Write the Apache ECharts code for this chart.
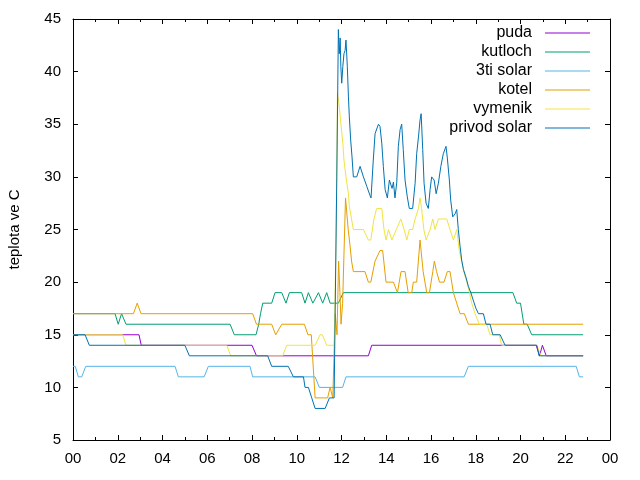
<!DOCTYPE html>
<html>
<head>
<meta charset="utf-8">
<script src="https://cdn.jsdelivr.net/npm/echarts@6/dist/echarts.min.js"></script>
<style>
  html, body { margin: 0; padding: 0; background: #fff; }
  #chart { width: 640px; height: 480px; }
</style>
</head>
<body>
<div id="chart"></div>
<script>
// hodiny a teploty [h, °C]
const names = ['puda', 'kutloch', '3ti solar', 'kotel', 'vymenik', 'privod solar']
const colors = ['#9400d3', '#009e73', '#56b4e9', '#e69f00', '#f0e442', '#0072b2']

const puda = [[0, 15], [2.95, 15], [3.05, 14], [8.0, 14], [8.2, 13], [13.2, 13], [13.35, 14],
  [20.7, 14], [20.85, 13], [20.98, 14], [21.15, 13], [22.8, 13]]

const kutloch = [[0, 17], [1.88, 17], [2.02, 16], [2.1, 16], [2.17, 17], [2.37, 16], [7.02, 16],
  [7.21, 15], [8.18, 15], [8.3, 16], [8.38, 17], [8.48, 18], [8.88, 18], [9.03, 19], [9.33, 19],
  [9.52, 18], [9.67, 19], [10.22, 19], [10.37, 18], [10.52, 19], [10.72, 18], [10.97, 19],
  [11.16, 18], [11.34, 19], [11.49, 18], [11.86, 18], [12.08, 19], [19.66, 19], [19.83, 18],
  [20.0, 18], [20.15, 16], [20.3, 16], [20.5, 15], [22.8, 15]]

const tretiSolar = [[0, 12], [0.1, 12], [0.24, 11], [0.39, 11], [0.57, 12], [4.56, 12], [4.71, 11],
  [5.86, 11], [6.05, 12], [7.91, 12], [8.03, 11], [10.82, 11], [11.01, 10], [12.05, 10], [12.2, 11],
  [17.48, 11], [17.67, 12], [22.49, 12], [22.63, 11], [22.8, 11]]

const kotel = [[0, 17], [2.7, 17], [2.87, 18], [3.04, 17], [8.03, 17], [8.2, 16], [8.88, 16],
  [9.06, 15], [9.33, 16], [10.34, 16], [10.5, 15], [10.65, 15], [10.82, 9], [11.38, 9], [11.49, 10],
  [11.61, 9], [11.68, 9], [11.72, 17], [11.8, 15], [11.87, 22], [11.93, 19], [11.98, 16], [12.05, 18],
  [12.18, 28], [12.3, 25], [12.38, 23.5], [12.45, 22], [12.53, 21], [13.05, 21], [13.2, 20],
  [13.31, 20], [13.5, 22], [13.72, 23], [13.84, 23], [13.99, 20], [14.32, 20], [14.5, 19],
  [14.66, 21], [14.84, 21], [14.98, 19], [15.14, 19], [15.21, 20], [15.36, 20], [15.51, 24],
  [15.65, 21], [15.81, 19], [15.93, 19], [16.08, 21], [16.15, 22], [16.25, 21], [16.38, 20],
  [16.58, 20], [16.73, 21], [16.85, 21], [17.0, 19], [17.15, 18], [17.3, 17], [17.49, 17],
  [17.67, 16], [22.8, 16]]

const vymenik = [[0, 15], [2.22, 15], [2.37, 14], [6.87, 14], [7.05, 13], [9.37, 13], [9.55, 14],
  [10.82, 14], [11.04, 15], [11.14, 15], [11.34, 14], [11.67, 14], [11.75, 23], [11.82, 38],
  [11.9, 36.7], [11.97, 35.1], [12.06, 33.2], [12.11, 31.6], [12.2, 30], [12.31, 28.4], [12.35, 27.2],
  [12.53, 25], [12.98, 25], [13.2, 24], [13.31, 24], [13.45, 26], [13.57, 27], [13.8, 27],
  [13.9, 25], [13.99, 24], [14.1, 25], [14.25, 24], [14.45, 25], [14.65, 26], [14.8, 25],
  [14.92, 24], [15.03, 25], [15.18, 25], [15.29, 26], [15.44, 27], [15.51, 28], [15.58, 27],
  [15.68, 25], [15.78, 24], [15.96, 25], [16.08, 26], [16.18, 25], [16.33, 26], [16.7, 26],
  [16.85, 25], [17.0, 24], [17.15, 25], [17.27, 22.9], [17.37, 22], [17.48, 20.9], [17.6, 20],
  [17.72, 19], [17.82, 18], [17.97, 17], [18.16, 16], [18.49, 16], [18.64, 15], [19.05, 15],
  [19.16, 14], [20.73, 14], [20.92, 13], [22.8, 13]]

const privodSolar = [[0, 15], [0.54, 15], [0.73, 14], [5.0, 14], [5.2, 13], [8.7, 13], [8.88, 12],
  [9.62, 12], [9.85, 11], [10.3, 11], [10.37, 10], [10.52, 10], [10.67, 9], [10.82, 8], [11.27, 8],
  [11.46, 9], [11.67, 9], [11.79, 30], [11.86, 44], [11.9, 41.7], [11.94, 43.2], [11.97, 40.5],
  [12.01, 38.9], [12.06, 40.5], [12.11, 41.7], [12.16, 42], [12.2, 43], [12.26, 40.5], [12.31, 37.6],
  [12.35, 35.7], [12.41, 33.5], [12.47, 31.9], [12.53, 30], [12.68, 30], [12.83, 31], [12.98, 30],
  [13.13, 29.1], [13.28, 28.2], [13.32, 28], [13.42, 31.6], [13.5, 34.1], [13.65, 35], [13.72, 34.8],
  [13.8, 33.2], [13.87, 31], [13.95, 28.8], [14.05, 28], [14.14, 29.7], [14.2, 29.7], [14.26, 28.9],
  [14.32, 29.5], [14.39, 28], [14.47, 29.5], [14.54, 32.9], [14.62, 34.5], [14.69, 35], [14.76, 32.6],
  [14.84, 29.7], [14.94, 28.1], [15.03, 27], [15.18, 27], [15.29, 29.4], [15.36, 32.2], [15.44, 33.8],
  [15.51, 35.4], [15.56, 36], [15.63, 32.6], [15.69, 29.4], [15.78, 27.5], [15.88, 27], [15.96, 28.8],
  [16.03, 30], [16.14, 29.7], [16.23, 28.4], [16.33, 29.4], [16.44, 31], [16.55, 32.2], [16.67, 32.9],
  [16.73, 31.8], [16.82, 29.7], [16.88, 27.8], [16.97, 26.2], [17.08, 26.5], [17.15, 26.9],
  [17.22, 25], [17.3, 23.4], [17.37, 22.1], [17.45, 21.2], [17.57, 20.4], [17.67, 19.6], [17.78, 19],
  [17.9, 18.2], [18.01, 17.5], [18.12, 17], [18.34, 17], [18.46, 16], [18.64, 16], [18.76, 15],
  [19.09, 15], [19.31, 14], [20.73, 14], [20.83, 13], [22.8, 13]]

const seriesData = [puda, kutloch, tretiSolar, kotel, vymenik, privodSolar]

const font = 'Liberation Sans, Arial, sans-serif'
const hourLabel = (v) => String(v % 24).padStart(2, '0')

const myEchart = echarts.init(document.querySelector('#chart'))

// osa s tiky dovnitř, zrcadlená nahoře / vpravo
const axisCommon = {
  axisLine: { show: true, onZero: false, lineStyle: { color: '#000', width: 1 } },
  axisTick: { show: true, inside: true, length: 5, lineStyle: { color: '#000' } },
  splitLine: { show: false },
}

const xBase = {
  type: 'value', min: 0, max: 24, interval: 2,
  minorTick: { show: true, splitNumber: 2, length: 3, lineStyle: { color: '#000' } },
  ...axisCommon,
}
const yBase = { type: 'value', min: 5, max: 45, interval: 5, ...axisCommon }

// legenda: každá položka zvlášť, aby byl text zarovnaný vpravo
const legendTop = [25, 44, 63, 82, 101, 120]
const legends = names.map((name, i) => ({
  data: [name],
  right: 50,
  top: legendTop[i],
  align: 'right',
  padding: 0,
  icon: 'rect',
  itemWidth: 45,
  itemHeight: 1,
  textStyle: { fontFamily: font, fontSize: 16, color: '#000', padding: [0, 8, 0, 0] },
  selectedMode: false,
}))

myEchart.setOption({
  animation: false,
  backgroundColor: '#fff',
  grid: { left: 73, right: 30, top: 19, bottom: 40, outerBoundsMode: 'none' },
  legend: legends,
  xAxis: [
    {
      ...xBase,
      position: 'bottom',
      axisLabel: { fontFamily: font, fontSize: 15, color: '#000', margin: 11, formatter: hourLabel },
    },
    { ...xBase, position: 'top', axisLabel: { show: false } },
  ],
  yAxis: [
    {
      ...yBase,
      position: 'left',
      name: 'teplota ve C',
      nameLocation: 'middle',
      nameGap: 51,
      nameRotate: 90,
      nameTextStyle: { fontFamily: font, fontSize: 15, color: '#000' },
      axisLabel: { fontFamily: font, fontSize: 15, color: '#000', margin: 12 },
    },
    { ...yBase, position: 'right', axisLabel: { show: false } },
  ],
  series: seriesData.map((data, i) => ({
    name: names[i],
    type: 'line',
    data: data,
    showSymbol: false,
    color: colors[i],
    lineStyle: { width: 1, color: colors[i] },
    xAxisIndex: 0,
    yAxisIndex: 0,
  })),
})
</script>
</body>
</html>
